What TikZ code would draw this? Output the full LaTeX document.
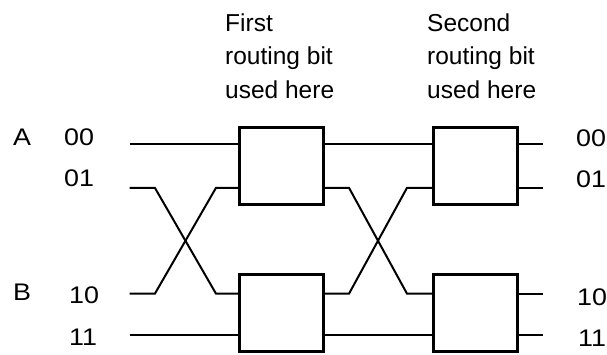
\documentclass[tikz,border=0pt]{standalone}
\usepackage{fontspec}
\setmainfont{Liberation Sans}
\usetikzlibrary{calc}
\newcommand\lblbox[1]{\scalebox{1.12}[1]{#1}}
\tikzset{
  wire/.style={line width=2pt, line join=miter},
  switchbox/.style={draw, line width=2.2pt, rectangle, minimum width=84pt, minimum height=77pt, inner sep=0pt},
  hdr/.style={anchor=base west, inner sep=0pt, align=left, font=\fontsize{24.5}{33.3}\selectfont},
  lbl/.style={anchor=base west, inner sep=0pt, font=\fontsize{24}{28}\selectfont},
}
\begin{document}
\begin{tikzpicture}[x=1pt, y=-1pt]
\useasboundingbox (0,0) rectangle (607,355);
% headers (base anchor is the baseline of the last line)
\node[hdr] (h1) at (225,98.3) {First\\routing bit\\used here};
\node[hdr] (h2) at (427,98.3) {Second\\routing bit\\used here};
% switch boxes
\node[switchbox] (b1t) at (281.5,166) {};
\node[switchbox] (b1b) at (281.5,313) {};
\node[switchbox] (b2t) at (475.5,166) {};
\node[switchbox] (b2b) at (475.5,313) {};
% input and output ends
\coordinate (in00) at (129.5,144.5);
\coordinate (in01) at (129.5,188);
\coordinate (in10) at (129.5,293.5);
\coordinate (in11) at (129.5,335);
\coordinate (out00) at (543,144.5);
\coordinate (out01) at (543,188);
\coordinate (out10) at (543,293.5);
\coordinate (out11) at (543,335);
% straight wires
\draw[wire] (in00) -- (b1t.west |- in00);
\draw[wire] (in11) -- (b1b.west |- in11);
\draw[wire] (b1t.east |- in00) -- (b2t.west |- in00);
\draw[wire] (b1b.east |- in11) -- (b2b.west |- in11);
% first crossing
\draw[wire] (in01) -- ++(25.5,0) -- ($(b1b.west |- in10)+(-22.5,0)$) -- (b1b.west |- in10);
\draw[wire] (in10) -- ++(25.5,0) -- ($(b1t.west |- in01)+(-22.5,0)$) -- (b1t.west |- in01);
% second crossing
\draw[wire] (b1t.east |- in01) -- ++(24.5,0) -- ($(b2b.west |- in10)+(-25.5,0)$) -- (b2b.west |- in10);
\draw[wire] (b1b.east |- in10) -- ++(24.5,0) -- ($(b2t.west |- in01)+(-25.5,0)$) -- (b2t.west |- in01);
% outputs
\draw[wire] (b2t.east |- out00) -- (out00);
\draw[wire] (b2t.east |- out01) -- (out01);
\draw[wire] (b2b.east |- out10) -- (out10);
\draw[wire] (b2b.east |- out11) -- (out11);
% labels
\node[lbl] (la) at (13,146) {\lblbox{A}};
\node[lbl] (lb) at (13,300) {\lblbox{B}};
\node[lbl] (l00) at (64,146) {\lblbox{00}};
\node[lbl] (l01) at (64,187) {\lblbox{01}};
\node[lbl] (l10) at (69,303) {\lblbox{10}};
\node[lbl] (l11) at (69,345) {\lblbox{11}};
\node[lbl] (r00) at (576,147) {\lblbox{00}};
\node[lbl] (r01) at (576,188) {\lblbox{01}};
\node[lbl] (r10) at (577,305) {\lblbox{10}};
\node[lbl] (r11) at (578,346) {\lblbox{11}};
\end{tikzpicture}
\end{document}
